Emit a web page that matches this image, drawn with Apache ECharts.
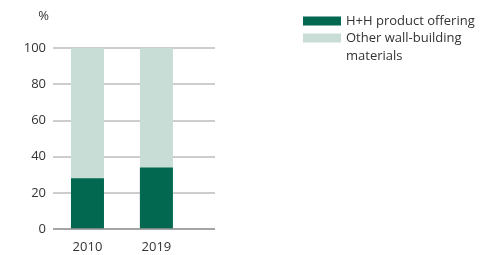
<!DOCTYPE html>
<html><head><meta charset="utf-8">
<script src="https://cdn.jsdelivr.net/npm/echarts@6/dist/echarts.min.js"></script>
<style>html,body{margin:0;padding:0;background:#fff}#c{width:502px;height:255px}</style>
</head><body><div id="c"></div>
<script>
const categories = ['2010', '2019'];
const categoryPos = [0.5, 1.5];
const hhShare = [28, 34];
const otherShare = [72, 66];
const yTicks = [0, 20, 40, 60, 80, 100];
const seriesNames = ['H+H product offering', 'Other wall-building\nmaterials'];

const chart = echarts.init(document.getElementById('c'), null, {renderer: 'canvas'});
const font = '"Open Sans", sans-serif';
const txt = {fontFamily: font, fontSize: 13, color: '#333'};
chart.setOption({
  animation: false,
  textStyle: {fontFamily: font},
  grid: {left: 53, top: 48, width: 162, height: 181, containLabel: false},
  legend: {
    orient: 'vertical', left: 303, top: 11, padding: 0,
    itemWidth: 38, itemHeight: 9, itemGap: -19,
    icon: 'rect',
    textStyle: Object.assign({}, txt, {lineHeight: 18}),
    formatter: name => name.indexOf('\n') >= 0 ? '\n' + name : name,
    data: seriesNames
  },
  xAxis: {
    type: 'value', min: 0, max: 2.35, interval: 0.5,
    splitLine: {show: false},
    axisLine: {show: false}, axisTick: {show: false},
    axisLabel: Object.assign({}, txt, {
      margin: 12, showMinLabel: true, showMaxLabel: false,
      formatter: v => { const i = categoryPos.indexOf(v); return i >= 0 ? categories[i] : ''; }
    })
  },
  yAxis: {
    type: 'value', min: 0, max: 100, interval: 20,
    name: '%', nameLocation: 'end', nameGap: 25,
    nameTextStyle: Object.assign({}, txt, {align: 'right', padding: [0, 4, 0, 0]}),
    axisLine: {show: false}, axisTick: {show: false},
    axisLabel: Object.assign({}, txt, {margin: 7}),
    splitLine: {lineStyle: {color: '#bdbdbd', width: 1.5}}
  },
  series: [
    {name: seriesNames[0], type: 'bar', barWidth: 33, z: 3,
     itemStyle: {color: '#02684f'},
     data: categoryPos.map((x, i) => [x, hhShare[i]])},
    {name: seriesNames[1], type: 'bar', barWidth: 33, barGap: '-100%', z: 2,
     itemStyle: {color: '#c7ddd6'},
     data: categoryPos.map((x, i) => [x, hhShare[i] + otherShare[i]])},
    {type: 'line', data: [], markLine: {silent: true, symbol: 'none', label: {show: false},
      lineStyle: {color: '#999', width: 1.5, type: 'solid'}, data: [{yAxis: 0}]}}
  ]
});
</script></body></html>
